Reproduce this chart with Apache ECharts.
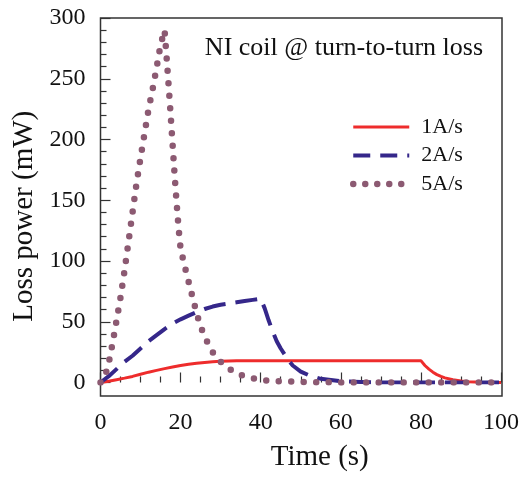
<!DOCTYPE html>
<html><head><meta charset="utf-8">
<script src="https://cdn.jsdelivr.net/npm/echarts@6/dist/echarts.min.js"></script>
<style>html,body{margin:0;padding:0;background:#fff}#c{width:522px;height:477px}</style>
</head><body><div id="c"></div>
<script>
const seriesNames = ['1A/s', '2A/s', '5A/s'];
const t1 = [0,2,4,6,8,10,12,14,16,18,20,22,24,26,28,30,34,40,50,60,70,80,81,82,83,84,85,86,88,90,92,95,100];
const p1 = [0,1,2.3,3.6,5,6.8,8.5,10,11.4,12.8,14,15,15.8,16.5,17,17.4,17.8,18,18,18,18,18,14,11,8.5,6.5,5,3.8,2.2,1.2,0.6,0.2,0];
const t2 = [0,2,4,6,8,10,12,14,16,18,20,22,24,26,28,30,32,34,36,38,40,41,42,43,44,45,46,47,48,50,52,55,60,65,70,80,90,100];
const p2 = [0,5,11,17,22,28,34,39,44,48.5,52,55,58,60.5,62.5,64,65,66,67,68,69,61,51,42,34,28,23,18,14,9,6,3,1,0.5,0,0,0,0];
const t5 = [0,1,2,3,4,5,6,7,8,9,10,11,12,13,14,15,16,16.5,17,17.5,18,18.5,19,19.5,20,21,22,23,24,25,26,27,28,29,30,32,34,36,38,40,45,50,60,70,80,90,100];
const p5 = [0,4,15,32,51,70,92,116,140,164,185,205,225,241,259,278,290,268,245,221,196,171,148,127,110,96,83,70,57,46,38,31,25,20.5,17,11.5,7.5,5,3.5,2,1,0.5,0,0,0,0,0];
const xTicks = [0, 100, 20];
const yTicks = [0, 300, 50];
const titleText = 'NI coil @ turn-to-turn loss';
const xTitle = 'Time (s)';
const yTitle = 'Loss power (mW)';

const zip = (a, b) => a.map((v, i) => [v, b[i]]);
const FONT = '"Liberation Serif", "Times New Roman", serif';
const AX = '#333';
const C = ['#ee2c2c', '#35278a', '#8c5a72'];

const chart = echarts.init(document.getElementById('c'), null, {renderer: 'canvas'});
chart.setOption({
  animation: false,
  backgroundColor: '#fff',
  title: {
    text: titleText, right: 34, top: 30,
    textStyle: {fontFamily: FONT, fontSize: 26, fontWeight: 'normal', color: '#111'}
  },
  legend: {
    left: 350, top: 116, orient: 'vertical', padding: 0,
    itemWidth: 56, itemHeight: 20, itemGap: 6.5,
    itemStyle: {opacity: 0},
    textStyle: {fontFamily: FONT, fontSize: 22, color: '#111', padding: [0, 0, 0, 7]},
    data: [
      {name: seriesNames[0], lineStyle: {width: 3}},
      {name: seriesNames[1], lineStyle: {width: 4, type: [17, 10]}},
      {name: seriesNames[2], lineStyle: {cap: 'round', width: 6.5, type: [0, 12]}}
    ]
  },
  grid: [
    {left: 100.5, right: 20, top: 18, bottom: 93.5, show: false},
    {left: 100.5, right: 20, top: 18, bottom: 81, show: true, borderColor: AX, borderWidth: 1.5, backgroundColor: 'transparent'}
  ],
  xAxis: [
    {type: 'value', gridIndex: 0, min: xTicks[0], max: xTicks[1], interval: xTicks[2], offset: 12.5,
     name: xTitle, nameLocation: 'middle', nameGap: 48,
     nameTextStyle: {fontFamily: FONT, fontSize: 29, color: '#111', padding: [0, 0, 0, 38]},
     axisLine: {show: false},
     axisTick: {show: true, inside: true, length: 10, lineStyle: {color: AX, width: 1.2}},
     minorTick: {show: true, splitNumber: 4, length: 6, lineStyle: {color: AX, width: 1.2}},
     splitLine: {show: false},
     axisLabel: {fontFamily: FONT, fontSize: 24, color: '#111', margin: 16}},
    {type: 'value', gridIndex: 1, show: false, min: 0, max: 1}
  ],
  yAxis: [
    {type: 'value', gridIndex: 0, min: yTicks[0], max: yTicks[1], interval: yTicks[2],
     name: yTitle, nameLocation: 'middle', nameGap: 61, nameRotate: 90,
     nameTextStyle: {fontFamily: FONT, fontSize: 29, color: '#111', padding: [0, 32, 0, 0]},
     axisLine: {show: false},
     axisTick: {show: true, inside: true, length: 10, lineStyle: {color: AX, width: 1.2}},
     minorTick: {show: true, splitNumber: 5, length: 6, lineStyle: {color: AX, width: 1.2}},
     splitLine: {show: false},
     axisLabel: {fontFamily: FONT, fontSize: 24, color: '#111', margin: 15}},
    {type: 'value', gridIndex: 1, show: false, min: 0, max: 1}
  ],
  series: [
    {name: seriesNames[0], type: 'line', xAxisIndex: 0, yAxisIndex: 0, data: zip(t1, p1),
     showSymbol: false, symbol: 'none', color: C[0],
     lineStyle: {color: C[0], width: 3}},
    {name: seriesNames[1], type: 'line', xAxisIndex: 0, yAxisIndex: 0, data: zip(t2, p2),
     showSymbol: false, symbol: 'none', color: C[1],
     lineStyle: {color: C[1], width: 4, type: [22, 10]}},
    {name: seriesNames[2], type: 'line', xAxisIndex: 0, yAxisIndex: 0, data: zip(t5, p5),
     showSymbol: false, symbol: 'none', color: C[2],
     lineStyle: {color: C[2], width: 6.5, type: [0, 12.5], cap: 'round'}}
  ]
});
</script></body></html>
